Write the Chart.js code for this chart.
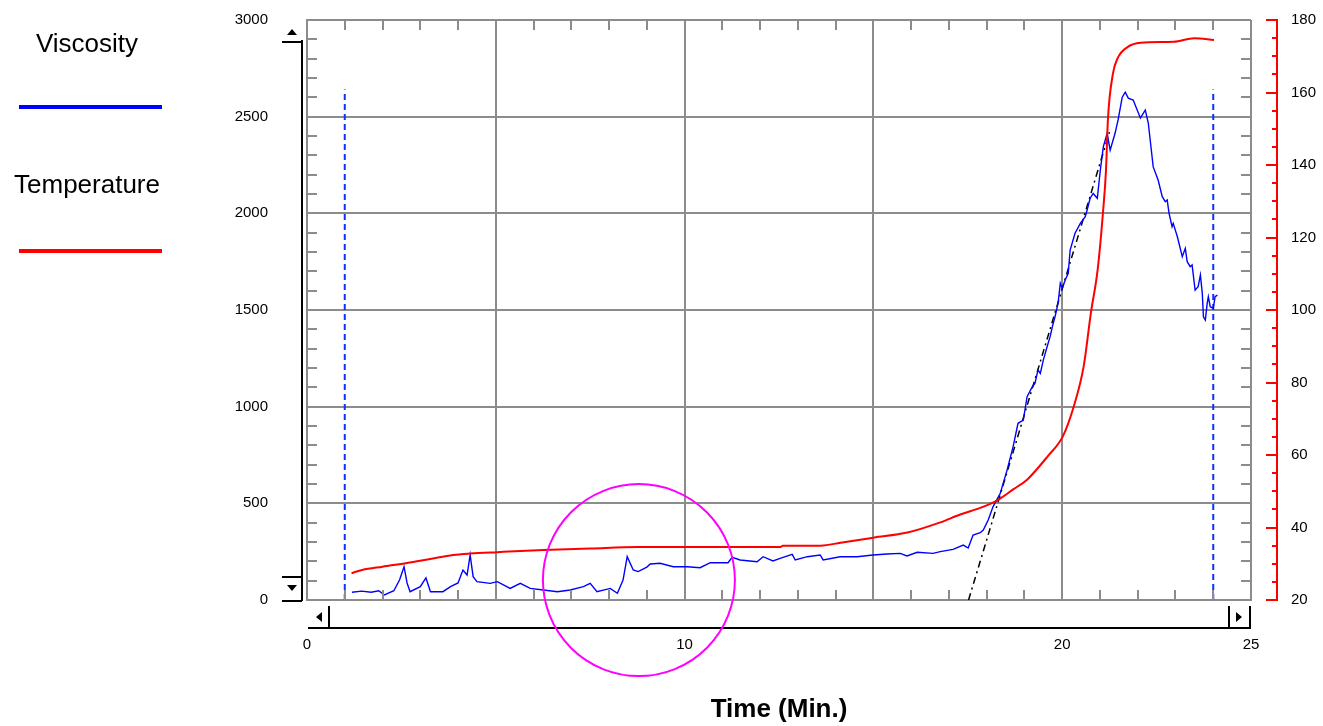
<!DOCTYPE html>
<html><head><meta charset="utf-8">
<script src="https://cdn.jsdelivr.net/npm/chart.js@4.4.1/dist/chart.umd.min.js"></script>
<style>html,body{margin:0;padding:0;background:#fff;overflow:hidden}canvas{display:block}</style>
</head><body>
<canvas id="c" width="1323" height="726"></canvas>
<script>
// ---- data ----
const timeV = [1.19,1.45,1.7,1.9,2.05,2.3,2.45,2.57,2.65,2.73,3.0,3.15,3.27,3.6,3.8,4.0,4.13,4.24,4.32,4.4,4.5,4.85,5.04,5.38,5.65,5.91,6.26,6.63,6.97,7.32,7.5,7.68,8.03,8.22,8.37,8.48,8.64,8.77,9.0,9.09,9.35,9.7,10.07,10.41,10.68,11.15,11.26,11.47,11.92,12.08,12.34,12.53,12.85,12.93,13.25,13.59,13.67,14.12,14.57,14.99,15.36,15.71,15.89,16.16,16.58,16.77,17.11,17.38,17.51,17.64,17.83,17.91,18.04,18.17,18.36,18.54,18.7,18.83,18.97,19.07,19.21,19.28,19.36,19.42,19.5,19.6,19.68,19.74,19.81,19.89,19.95,20.0,20.08,20.16,20.21,20.34,20.48,20.61,20.66,20.74,20.82,20.93,21.01,21.09,21.19,21.27,21.4,21.48,21.59,21.67,21.75,21.88,22.07,22.2,22.28,22.41,22.54,22.65,22.73,22.78,22.83,22.91,22.94,23.05,23.18,23.26,23.31,23.39,23.44,23.52,23.6,23.66,23.71,23.74,23.79,23.84,23.87,23.92,24.0,24.05,24.11];
const viscosity = [40,46,40,48,26,48,103,172,88,43,69,114,43,43,69,88,155,129,233,121,95,86,95,60,86,60,52,43,52,69,86,43,60,35,103,224,155,147,170,186,190,172,172,167,193,193,221,207,198,224,202,215,236,207,224,233,207,224,224,233,238,241,228,247,241,250,262,284,269,336,348,362,414,483,552,672,793,914,931,1052,1103,1121,1190,1172,1241,1310,1362,1414,1465,1534,1638,1612,1655,1690,1810,1897,1948,1983,2017,2078,2103,2078,2224,2345,2414,2327,2414,2483,2601,2627,2596,2586,2493,2534,2467,2240,2172,2086,2060,2069,2000,1931,1948,1879,1776,1819,1750,1724,1733,1603,1621,1681,1586,1465,1448,1534,1569,1517,1509,1569,1577];
const timeT = [1.18,1.46,2.0,2.65,3.3,3.87,4.32,5.04,6.26,7.5,8.75,10.0,11.3,12.54,12.6,13.6,14.13,15.0,15.9,16.77,17.3,17.83,18.28,18.7,19.07,19.62,20.02,20.31,20.57,20.76,20.94,21.08,21.16,21.21,21.34,21.47,21.74,22.08,22.96,23.5,24.02];
const temperature = [27.4,28.3,29.2,30.2,31.4,32.4,32.8,33.2,33.8,34.2,34.6,34.6,34.6,34.6,35.0,35.0,35.8,37.2,38.6,41.4,43.6,45.4,47.5,50.5,53.2,59.7,65.2,73.5,84.5,99.2,111.2,126.9,138.6,152.4,165,169.5,172.6,173.7,174,175,174.5];
const xTickLabels = [0, 10, 20, 25];
const markerTimes = [1.0, 24.0];
const markerTop = 2640;
const tangentTime = [17.52, 21.25];
const tangentVisc = [0, 2420];
const circleCenter = [8.79, 103];   // time, viscosity
const seriesNames = ['Viscosity', 'Temperature'];
const seriesColors = ['#0000ff', '#ff0000'];

// ---- build ----
const FONT = '"Liberation Sans", Arial, Helvetica, sans-serif';
const GRID = '#8c8c8c';
const CLEAR = 'rgba(0,0,0,0)';
const pairs = (xs, ys) => xs.map((x, i) => ({x, y: ys[i]}));

const decor = {
  id: 'decor',
  afterDraw(chart) {
    const {ctx, chartArea: a, scales: {x, y, y1}} = chart;
    ctx.save();
    // minor grey ticks inside the frame
    ctx.strokeStyle = GRID; ctx.lineWidth = 2;
    ctx.beginPath();
    for (let v = 100; v < 3000; v += 100) {
      if (v % 500 === 0) continue;
      const p = Math.round(y.getPixelForValue(v));
      ctx.moveTo(a.left, p); ctx.lineTo(a.left + 10, p);
      ctx.moveTo(a.right - 10, p); ctx.lineTo(a.right, p);
    }
    for (let t = 1; t < 25; t++) {
      if (t % 5 === 0) continue;
      const p = Math.round(x.getPixelForValue(t));
      ctx.moveTo(p, a.top); ctx.lineTo(p, a.top + 10);
      ctx.moveTo(p, a.bottom - 10); ctx.lineTo(p, a.bottom);
    }
    ctx.stroke();

    // red temperature axis
    const rx = a.right + 26;
    ctx.strokeStyle = '#ff0000'; ctx.lineWidth = 2;
    ctx.beginPath();
    ctx.moveTo(rx, y1.getPixelForValue(180) - 1); ctx.lineTo(rx, y1.getPixelForValue(20) + 1);
    for (let v = 20; v <= 180; v += 5) {
      const p = Math.round(y1.getPixelForValue(v));
      const len = v % 20 === 0 ? 11 : 5;
      ctx.moveTo(rx - len, p); ctx.lineTo(rx, p);
    }
    ctx.stroke();

    // vertical scroll bar (left)
    ctx.strokeStyle = '#000'; ctx.fillStyle = '#000'; ctx.lineWidth = 2;
    const sx = a.left - 5;
    ctx.beginPath();
    ctx.moveTo(sx, a.top + 20); ctx.lineTo(sx, a.bottom + 1);
    ctx.moveTo(sx - 20, a.top + 22); ctx.lineTo(sx, a.top + 22);
    ctx.moveTo(sx - 20, a.bottom - 23); ctx.lineTo(sx, a.bottom - 23);
    ctx.moveTo(sx - 20, a.bottom + 1); ctx.lineTo(sx, a.bottom + 1);
    ctx.stroke();
    ctx.beginPath();
    ctx.moveTo(sx - 15, a.top + 15); ctx.lineTo(sx - 5, a.top + 15); ctx.lineTo(sx - 10, a.top + 9); ctx.closePath();
    ctx.moveTo(sx - 15, a.bottom - 15); ctx.lineTo(sx - 5, a.bottom - 15); ctx.lineTo(sx - 10, a.bottom - 9); ctx.closePath();
    ctx.fill();

    // horizontal scroll bar (bottom)
    const by = a.bottom + 28;
    ctx.beginPath();
    ctx.moveTo(a.left + 1, by); ctx.lineTo(a.right, by);
    ctx.moveTo(a.left + 22, a.bottom + 6); ctx.lineTo(a.left + 22, by);
    ctx.moveTo(a.right - 22, a.bottom + 6); ctx.lineTo(a.right - 22, by);
    ctx.moveTo(a.right - 1, a.bottom + 6); ctx.lineTo(a.right - 1, by);
    ctx.stroke();
    ctx.beginPath();
    ctx.moveTo(a.left + 15, a.bottom + 12); ctx.lineTo(a.left + 15, a.bottom + 22); ctx.lineTo(a.left + 9, a.bottom + 17); ctx.closePath();
    ctx.moveTo(a.right - 15, a.bottom + 12); ctx.lineTo(a.right - 15, a.bottom + 22); ctx.lineTo(a.right - 9, a.bottom + 17); ctx.closePath();
    ctx.fill();

    // highlight circle
    ctx.strokeStyle = '#ff00ff'; ctx.lineWidth = 2;
    ctx.beginPath();
    ctx.arc(x.getPixelForValue(circleCenter[0]), y.getPixelForValue(circleCenter[1]), 96, 0, Math.PI * 2);
    ctx.stroke();

    // legend
    ctx.fillStyle = '#000';
    ctx.font = '26px ' + FONT;
    ctx.textAlign = 'center'; ctx.textBaseline = 'alphabetic';
    ctx.fillText(seriesNames[0], 87, 52);
    ctx.fillText(seriesNames[1], 87, 193);
    ctx.fillStyle = seriesColors[0]; ctx.fillRect(19, 105, 143, 4);
    ctx.fillStyle = seriesColors[1]; ctx.fillRect(19, 249, 143, 4);
    ctx.restore();
  }
};

new Chart(document.getElementById('c'), {
  type: 'line',
  data: {
    datasets: [
      { label: seriesNames[1], data: pairs(timeT, temperature), yAxisID: 'y1', borderColor: seriesColors[1], borderWidth: 2, pointRadius: 0, cubicInterpolationMode: 'monotone', order: 1 },
      { label: seriesNames[0], data: pairs(timeV, viscosity), yAxisID: 'y', borderColor: seriesColors[0], borderWidth: 1.4, pointRadius: 0, tension: 0, order: 2 },
      { label: 'tangent', data: pairs(tangentTime, tangentVisc), yAxisID: 'y', borderColor: '#000', borderWidth: 1.5, borderDash: [7, 4, 2, 4], pointRadius: 0, order: 3 },
      { label: 'start', data: [{x: markerTimes[0], y: 0}, {x: markerTimes[0], y: markerTop}], yAxisID: 'y', borderColor: '#1030ff', borderWidth: 2, borderDash: [6, 4], pointRadius: 0, order: 4 },
      { label: 'end', data: [{x: markerTimes[1], y: 0}, {x: markerTimes[1], y: markerTop}], yAxisID: 'y', borderColor: '#1030ff', borderWidth: 2, borderDash: [6, 4], pointRadius: 0, order: 4 }
    ]
  },
  options: {
    responsive: false, animation: false, devicePixelRatio: 1,
    layout: { padding: { top: 20, left: 0, right: 0, bottom: 0 } },
    plugins: { legend: { display: false }, tooltip: { enabled: false } },
    scales: {
      x: {
        type: 'linear', min: 0, max: 25, position: 'bottom',
        afterFit: s => { s.height = 126; },
        grid: { color: GRID, lineWidth: 2, drawTicks: true, tickLength: 36, tickColor: CLEAR },
        border: { display: true, color: GRID, width: 2 },
        ticks: { stepSize: 5, autoSkip: false, maxRotation: 0, padding: 0, color: '#000', font: { family: FONT, size: 15 },
                 callback: v => xTickLabels.includes(v) ? String(v) : '' },
        title: { display: true, text: 'Time (Min.)', color: '#000', font: { family: FONT, size: 26, weight: 'bold' }, padding: { top: 0, bottom: 1 } }
      },
      y: {
        type: 'linear', min: 0, max: 3000, position: 'left',
        afterFit: s => { s.width = 307; },
        grid: { color: GRID, lineWidth: 2, drawTicks: true, tickLength: 39, tickColor: CLEAR },
        border: { display: true, color: GRID, width: 2 },
        ticks: { stepSize: 500, padding: 0, color: '#000', font: { family: FONT, size: 15 }, callback: v => String(v) }
      },
      y1: {
        type: 'linear', min: 20, max: 180, position: 'right',
        afterFit: s => { s.width = 72; },
        grid: { display: true, drawOnChartArea: false, drawTicks: true, tickLength: 40, tickColor: CLEAR, color: CLEAR },
        border: { display: false },
        ticks: { stepSize: 20, padding: 0, color: '#000', font: { family: FONT, size: 15 }, callback: v => String(v) }
      }
    }
  },
  plugins: [decor]
});
</script>
</body></html>
